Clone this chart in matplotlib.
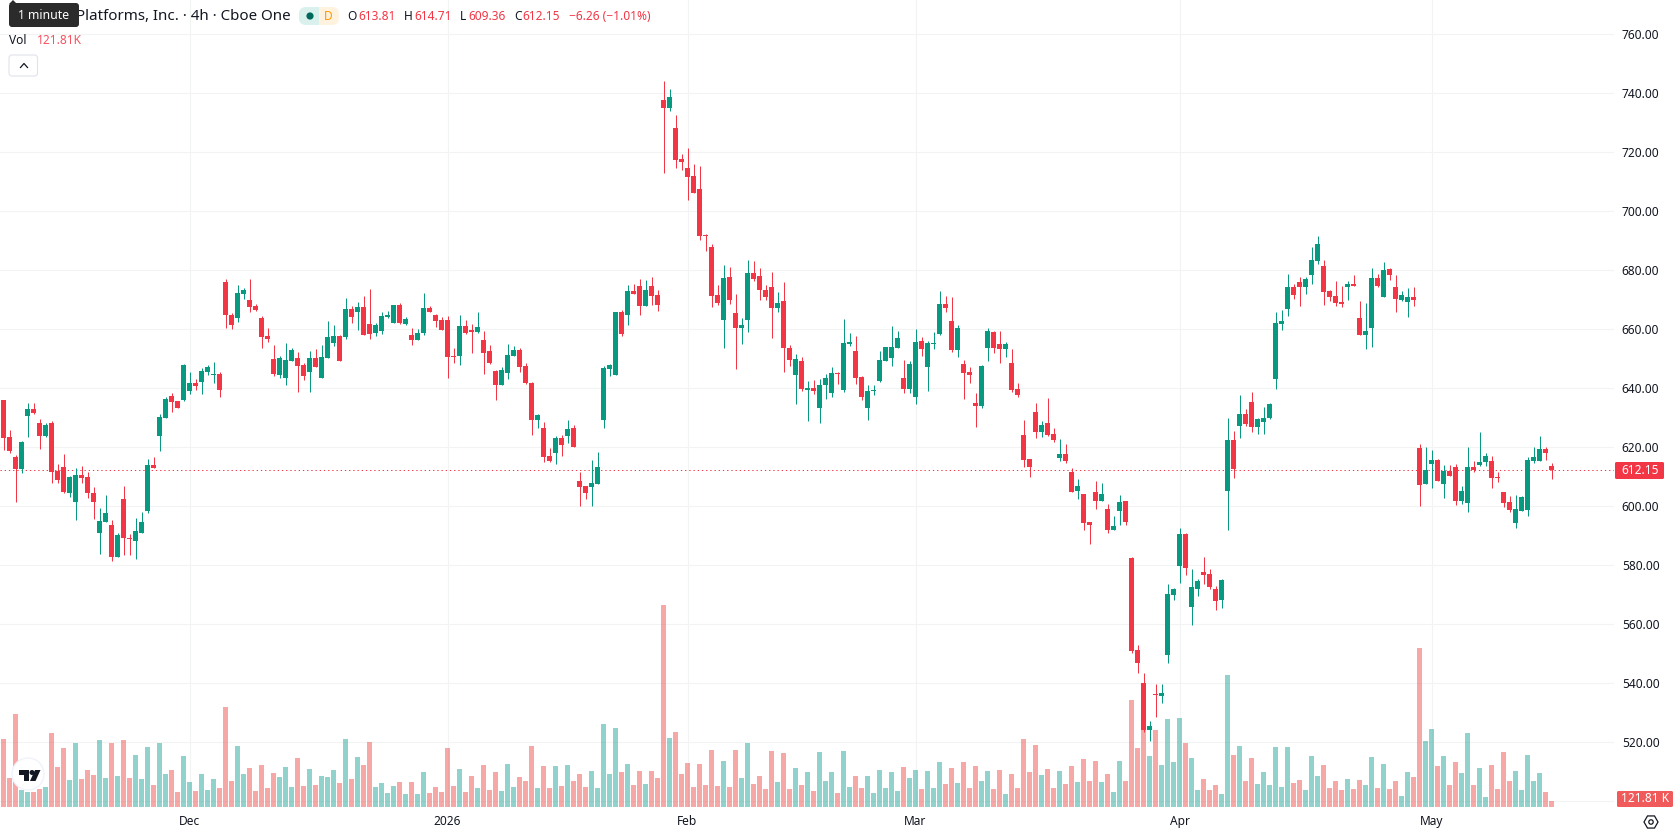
import matplotlib
matplotlib.use("Agg")
import matplotlib.pyplot as plt
from matplotlib.patches import FancyBboxPatch, Circle, Polygon, RegularPolygon, Rectangle

plt.rcParams['font.family'] = ['Noto Sans', 'DejaVu Sans']

# 4h bars, oldest first
opens = [
    636.0,623.5,616.7,612.6,630.6,633.0,628.2,623.8,628.2,612.0,
    613.3,604.5,601.5,610.6,609.9,604.5,590.9,594.7,593.7,582.8,
    602.5,589.3,588.2,590.9,598.4,614.0,623.8,629.9,637.4,635.7,
    636.0,639.1,641.8,642.1,645.5,644.5,644.9,676.0,664.9,663.8,
    672.0,669.9,667.9,663.8,657.7,649.9,644.5,643.5,649.3,650.3,
    647.9,645.5,650.3,643.5,650.3,655.4,657.7,657.4,666.9,665.9,
    667.6,661.8,658.8,659.4,664.2,662.1,668.2,661.8,658.1,656.4,
    658.8,667.2,664.9,663.2,663.2,651.0,651.0,661.1,659.8,659.1,
    656.4,652.7,645.9,641.1,645.2,651.0,653.0,647.6,641.8,629.3,
    626.5,617.1,618.1,623.2,623.8,626.5,608.6,606.9,606.5,607.6,
    629.3,646.6,644.5,665.9,664.9,673.0,674.7,667.9,674.7,671.6,
    737.7,735.0,728.2,717.7,714.7,711.9,707.6,692.0,687.9,671.6,
    663.2,677.7,665.5,660.4,663.2,679.1,678.1,673.3,674.3,667.2,
    669.6,653.7,644.5,649.2,639.4,640.1,633.3,641.1,638.4,645.2,
    639.4,655.0,652.6,643.9,633.3,639.1,642.5,649.3,650.3,653.7,
    643.5,639.8,637.1,656.0,647.2,655.0,658.4,668.6,662.8,653.0,
    648.2,645.5,635.0,634.0,653.7,659.1,655.0,653.3,648.6,639.8,
    624.2,616.0,632.0,625.2,628.2,624.5,616.4,617.7,611.6,605.2,
    604.2,594.7,604.9,601.8,599.1,592.0,598.4,601.8,582.5,551.3,
    540.1,524.2,536.4,535.7,549.6,569.9,579.8,590.6,565.9,572.0,
    577.7,577.1,572.0,568.2,605.2,622.5,627.3,631.3,635.4,626.9,
    628.6,630.0,643.2,661.8,666.9,674.4,676.1,674.4,678.5,683.2,
    681.5,673.0,671.3,669.3,674.4,675.4,663.9,658.1,660.5,677.4,
    671.0,680.5,674.4,670.0,669.3,671.0,619.8,607.6,614.4,615.7,
    607.6,612.0,613.4,601.8,601.2,613.4,614.0,615.1,615.4,610.0,
    604.9,601.5,594.4,598.4,598.8,615.4,615.4,619.5,613.81,
]
closes = [
    623.3,618.8,612.6,621.8,633.0,631.6,623.8,627.6,611.6,608.9,
    604.9,609.9,610.6,609.6,604.5,601.5,595.0,597.7,582.8,590.3,
    589.3,588.9,591.6,594.7,614.0,613.0,630.3,636.4,635.4,633.3,
    647.9,641.8,640.8,645.9,647.2,644.9,639.4,664.9,661.5,672.3,
    673.3,667.6,666.6,657.4,656.7,644.9,650.3,649.6,653.0,647.6,
    644.2,650.3,647.2,650.6,657.4,657.7,649.3,666.9,664.2,667.6,
    658.1,658.4,661.5,664.5,664.9,668.2,662.1,663.5,656.4,658.8,
    667.2,665.9,662.8,659.8,650.6,650.6,661.1,658.8,659.1,660.8,
    652.0,648.6,641.1,646.2,651.3,653.0,647.2,641.8,629.3,631.0,
    616.7,615.4,623.2,620.8,626.2,620.1,606.5,604.5,607.9,613.3,
    646.9,647.9,665.9,658.4,673.0,672.0,667.9,673.3,671.3,668.2,
    735.0,738.8,717.4,716.7,711.6,706.2,691.6,691.6,671.3,668.9,
    677.4,669.9,660.4,661.5,679.1,677.0,673.3,671.0,667.2,668.9,
    653.7,649.6,649.9,639.8,640.1,639.1,641.1,643.5,645.2,644.9,
    655.4,655.7,643.5,637.1,639.1,639.4,649.6,654.0,654.0,657.0,
    639.8,648.2,655.7,653.3,655.4,655.4,668.6,667.2,653.0,660.4,
    645.2,644.5,634.0,647.6,659.4,653.7,653.3,655.0,639.4,637.8,
    615.7,613.3,625.2,627.6,624.2,622.5,617.7,615.4,604.9,606.9,
    594.3,593.7,601.8,604.2,592.0,593.3,601.5,594.7,550.9,546.9,
    524.2,525.5,536.0,536.7,570.3,572.0,590.6,579.1,572.6,574.7,
    576.7,572.6,567.9,575.0,622.5,612.7,631.3,628.0,626.9,629.6,
    630.0,634.7,662.2,662.9,674.4,671.7,674.4,677.1,683.5,689.0,
    672.7,671.0,669.0,668.6,675.4,674.7,658.1,659.5,677.4,674.7,
    680.1,678.5,670.3,671.7,671.0,670.0,607.3,612.4,615.7,608.6,
    612.0,610.3,601.8,605.2,613.4,612.4,615.1,617.1,609.6,609.6,
    601.2,598.8,599.1,603.2,615.7,616.8,619.5,618.1,612.15,
]
highs = [
    636.0,625.9,617.4,622.1,635.0,635.0,629.6,628.2,628.9,614.3,
    617.7,610.3,613.0,613.7,611.6,606.5,599.4,603.8,595.4,590.9,
    606.9,590.6,596.0,598.1,616.0,616.7,631.3,637.1,638.4,635.7,
    648.2,645.5,643.2,646.9,647.9,648.9,645.5,677.1,665.5,675.0,
    674.0,677.1,668.6,664.5,660.4,654.7,651.0,655.4,653.7,652.3,
    648.6,652.7,653.3,654.7,662.8,661.5,658.1,670.6,667.9,669.3,
    671.3,673.7,662.1,665.9,666.2,668.2,668.9,664.2,660.4,660.1,
    672.3,667.9,665.2,664.2,664.5,653.7,664.9,663.2,661.8,665.9,
    659.4,654.7,646.2,647.2,655.0,654.3,653.7,648.6,642.1,631.3,
    628.6,619.8,623.8,624.2,629.3,627.6,611.6,606.9,615.7,618.4,
    647.6,648.2,665.9,666.6,675.0,675.4,677.1,676.7,677.7,673.3,
    744.2,741.5,732.6,719.4,721.5,716.0,715.4,692.3,688.9,675.0,
    681.8,681.1,672.0,663.8,683.5,683.2,680.8,675.0,679.4,672.6,
    676.0,654.7,651.6,650.6,642.5,642.8,643.2,644.9,647.2,645.5,
    663.5,658.7,657.7,644.2,641.1,641.1,652.7,654.0,661.1,659.4,
    649.6,649.2,660.1,657.4,656.0,659.1,673.0,671.3,670.9,661.5,
    649.6,647.2,638.4,647.9,660.4,659.4,659.4,655.7,653.3,641.8,
    629.3,616.0,635.0,628.9,636.7,626.5,622.8,621.1,613.0,609.3,
    604.2,594.7,608.6,607.9,600.8,596.7,603.8,601.8,582.8,553.0,
    543.5,527.2,539.8,539.8,573.7,572.3,592.6,590.9,578.8,575.4,
    582.8,578.8,573.0,575.4,630.0,625.6,637.8,633.0,638.8,630.0,
    633.7,635.1,665.9,666.6,678.8,675.4,677.8,677.8,687.9,691.7,
    683.5,673.4,676.4,674.7,676.4,678.5,669.6,669.0,680.8,678.8,
    682.9,680.8,678.5,673.0,674.0,674.4,621.2,620.1,619.1,616.1,
    614.0,614.0,614.4,606.9,620.1,615.4,625.2,618.1,617.1,611.7,
    604.9,603.5,603.9,603.5,616.8,620.1,623.9,620.1,614.71,
]
lows = [
    619.1,618.1,601.5,611.3,623.5,631.3,619.4,623.5,607.9,607.9,
    604.5,603.2,595.4,607.9,602.8,595.7,583.8,594.7,581.5,582.8,
    583.5,583.5,582.1,590.9,597.7,613.0,618.8,629.9,632.0,633.3,
    635.7,638.1,639.4,638.1,644.5,641.8,637.1,660.4,660.1,662.5,
    670.3,665.9,666.2,653.7,655.7,644.2,643.5,641.1,649.3,638.8,
    642.8,638.8,647.2,643.5,650.3,654.3,649.3,656.7,662.1,659.8,
    658.1,656.7,657.7,658.4,663.8,662.1,661.8,661.5,654.7,656.4,
    658.1,665.9,660.8,659.8,643.5,648.6,647.9,658.4,652.0,658.8,
    644.9,648.2,636.0,641.1,643.2,651.0,645.5,641.5,624.2,626.5,
    615.0,615.0,614.3,617.1,621.5,620.1,600.1,602.5,600.1,607.6,
    626.5,644.2,644.5,657.7,661.5,672.0,664.9,667.9,668.2,666.2,
    713.0,734.0,714.7,714.0,703.8,706.2,690.3,686.5,667.6,668.2,
    653.7,668.6,646.5,655.0,659.1,676.4,669.9,669.9,657.0,665.9,
    645.5,647.6,634.7,639.1,628.9,638.1,628.2,636.4,637.1,641.5,
    638.8,654.3,641.5,636.1,629.3,637.8,642.2,649.3,647.6,653.7,
    638.4,638.4,634.7,650.9,639.1,653.3,658.1,665.9,652.3,650.6,
    636.4,641.8,626.9,633.3,649.2,652.0,648.6,650.6,638.8,637.1,
    613.3,609.9,623.2,623.5,623.8,621.8,615.4,614.7,604.9,602.5,
    592.0,587.2,599.1,601.8,591.0,592.0,593.7,593.7,550.3,543.5,
    523.5,520.4,528.6,533.3,546.9,568.2,574.0,576.7,559.8,569.6,
    573.7,572.0,564.9,565.5,592.0,609.6,623.2,627.3,625.2,624.6,
    624.6,629.6,639.8,659.8,664.6,670.3,667.9,672.0,675.4,682.2,
    668.3,669.6,667.9,667.6,670.0,674.7,658.1,653.4,654.0,674.4,
    671.0,676.8,665.9,669.6,664.2,667.9,600.1,607.6,606.2,608.6,
    602.9,610.3,600.5,600.8,598.1,611.7,613.7,613.7,606.2,608.3,
    599.8,598.1,592.7,598.4,596.8,614.7,615.4,615.7,609.36,
]
# volume per bar, in thousands of shares
volumes = [
    1462,624,2000,366,323,323,387,430,1591,860,
    1269,581,1376,602,796,688,1441,624,1376,667,
    1441,624,1118,602,1290,473,1376,710,796,323,
    1097,538,344,710,366,602,409,2150,559,1312,
    710,839,344,903,409,731,645,860,430,1054,
    452,817,473,667,645,796,516,1462,602,1075,
    903,1398,430,516,301,452,538,280,538,280,
    753,301,430,323,1269,452,817,323,667,409,
    903,366,753,344,925,430,645,559,1312,409,
    882,409,882,452,903,559,710,430,774,409,
    1785,710,1699,753,925,473,774,495,774,624,
    4343,1484,1613,710,946,430,925,473,1226,452,
    989,430,1226,624,1376,495,667,387,1204,538,
    1161,387,839,473,753,344,1183,559,753,301,
    1204,430,667,409,667,301,796,409,753,344,
    860,624,796,387,774,409,968,495,839,516,
    968,409,882,559,774,387,796,280,710,409,
    1462,753,1333,688,817,409,774,495,882,538,
    1032,559,989,538,710,323,989,559,2300,1269,
    1655,1097,1655,903,1892,968,1913,1376,1054,366,
    602,366,473,280,2838,1118,1312,559,1054,495,
    753,473,1290,430,1290,516,581,366,1097,667,
    903,409,559,366,602,387,581,473,1075,409,
    925,387,559,237,753,645,3419,1419,1677,882,
    1097,473,968,731,1591,473,839,215,903,387,
    1183,559,774,366,1118,559,731,323,121.81,
]
price_ticks = [500, 520, 540, 560, 580, 600, 620, 640, 660, 680, 700, 720, 740, 760]
price_labels = ['', '520.00', '540.00', '560.00', '580.00', '600.00', '620.00',
                '640.00', '660.00', '680.00', '700.00', '720.00', '740.00', '760.00']
month_positions = [31, 74, 114, 152, 196, 238]
month_labels = ['Dec', '2026', 'Feb', 'Mar', 'Apr', 'May']
last_price = closes[-1]

UP = '#089981'
DOWN = '#F23645'
GRID = '#F2F3F3'
INK = '#131722'
W, H = 1678, 835
PLOT_W, PLOT_H = 1614, 807

fig = plt.figure(figsize=(W / 100, H / 100), dpi=100, facecolor='white')
rect = [0, 1 - PLOT_H / H, PLOT_W / W, PLOT_H / H]

xlim = (-3.5 / 6, (PLOT_W - 3.5) / 6)
ylim = (498.1, 771.6)

# Price scale, time scale and grid live on the bottom layer
ax = fig.add_axes(rect, zorder=1)
ax.set_xlim(xlim)
ax.set_ylim(ylim)
ax.yaxis.tick_right()
ax.set_yticks(price_ticks)
ax.set_yticklabels(price_labels, fontsize=8.6, color=INK)
ax.set_xticks(month_positions)
ax.set_xticklabels(month_labels, fontsize=8.6, color=INK)
ax.get_xticklabels()[1].set_fontweight('bold')
ax.tick_params(axis='both', length=0)
ax.tick_params(axis='y', pad=5.6)
ax.tick_params(axis='x', pad=5.5)
ax.grid(True, color=GRID, linewidth=0.8)
ax.set_axisbelow(True)
for s in ax.spines.values():
    s.set_visible(False)

xs = list(range(len(closes)))
rising = [c >= o for o, c in zip(opens, closes)]

# Volume histogram, scaled so the pane's full height is 17350 K
ax_vol = fig.add_axes(rect, zorder=2)
ax_vol.patch.set_visible(False)
ax_vol.axis('off')
ax_vol.set_xlim(xlim)
ax_vol.set_ylim(0, 17350)
vol_colors = [(38/255, 166/255, 154/255, 0.5) if r else (239/255, 83/255, 80/255, 0.5) for r in rising]
ax_vol.bar(xs, volumes, width=5 / 6, color=vol_colors, linewidth=0)

# Candles and the last-price line
ax_c = fig.add_axes(rect, zorder=3)
ax_c.patch.set_visible(False)
ax_c.axis('off')
ax_c.set_xlim(xlim)
ax_c.set_ylim(ylim)
ax_c.axhline(last_price, color=DOWN, linewidth=0.72, dashes=(1.3, 2.9), zorder=1)
candle_colors = [UP if r else DOWN for r in rising]
ax_c.vlines(xs, lows, highs, colors=candle_colors, linewidth=0.72, zorder=2, snap=True)
body_low = [min(o, c) for o, c in zip(opens, closes)]
body_h = [max(abs(o - c), 0.34) for o, c in zip(opens, closes)]
ax_c.bar(xs, body_h, bottom=body_low, width=5 / 6, color=candle_colors, linewidth=0, zorder=3)

# Chart furniture in pixel coordinates
ui = fig.add_axes([0, 0, 1, 1], zorder=4)
ui.set_xlim(0, W)
ui.set_ylim(H, 0)
ui.axis('off')
ui.patch.set_visible(False)

FS = 8.6
ui.text(291, 16, 'Platforms, Inc. · 4h · Cboe One', ha='right', va='center', fontsize=10.9, color=INK)

# Tooltip
TOOLTIP = '#2B2B2B'
ui.add_patch(FancyBboxPatch((9, 3), 70, 24, boxstyle='round,pad=0,rounding_size=3',
                            fc=TOOLTIP, ec='none', zorder=5))
ui.add_patch(Polygon([[9, 4], [13, 0], [17, 4]], closed=True, fc=TOOLTIP, ec='none', zorder=5))
ui.text(43.5, 15.5, '1 minute', color='white', fontsize=8.8, ha='center', va='center', zorder=6)

# Market-status pill
ui.add_patch(FancyBboxPatch((299, 7), 20, 18, boxstyle='round,pad=0,rounding_size=7', fc='#DAF0EC', ec='none'))
ui.add_patch(FancyBboxPatch((319, 7), 20, 18, boxstyle='round,pad=0,rounding_size=7', fc='#FFF3E0', ec='none'))
ui.add_patch(Rectangle((311, 7), 8, 18, fc='#DAF0EC', ec='none'))
ui.add_patch(Rectangle((319, 7), 8, 18, fc='#FFF3E0', ec='none'))
ui.add_patch(Circle((310, 16), 3.6, fc='#00695C', ec='none'))
ui.text(328, 16, 'D', color='#FF9800', fontsize=8.6, fontweight='bold', ha='center', va='center')

# OHLC readout
for x, letter, x2, value in [(347, 'O', 358, '613.81'), (404, 'H', 414, '614.71'),
                             (460, 'L', 468, '609.36'), (514, 'C', 522, '612.15')]:
    ui.text(x, 16, letter, color=INK, fontsize=FS, ha='left', va='center')
    ui.text(x2, 16, value, color=DOWN, fontsize=FS, ha='left', va='center')
ui.text(569, 16, '−6.26 (−1.01%)', color=DOWN, fontsize=FS, ha='left', va='center')

ui.text(9, 40, 'Vol', color=INK, fontsize=FS, ha='left', va='center')
ui.text(37, 40, '121.81K', color='#F7525F', fontsize=FS, ha='left', va='center')

# Collapse button
ui.add_patch(FancyBboxPatch((9, 55), 28.5, 21, boxstyle='round,pad=0,rounding_size=3',
                            fc='white', ec='#E0E3EB', linewidth=0.8))
ui.plot([20.5, 24, 27.5], [67.5, 63.5, 67.5], color=INK, linewidth=0.9)

# Last-value badges on the price scale
ui.add_patch(FancyBboxPatch((1615, 462), 49, 17, boxstyle='round,pad=0,rounding_size=1.5', fc=DOWN, ec='none'))
ui.text(1640, 470.5, f'{last_price:.2f}', color='white', fontsize=FS, ha='center', va='center')
ui.add_patch(FancyBboxPatch((1617, 791), 56, 16, boxstyle='round,pad=0,rounding_size=1.5', fc='#F05A5A', ec='none'))
ui.text(1645, 799, f'{volumes[-1]:.2f} K', color='white', fontsize=FS, ha='center', va='center')

# Settings cog
ui.add_patch(RegularPolygon((1651, 822), 6, radius=7, orientation=3.14159 / 6, fc='none', ec=INK, linewidth=0.9))
ui.add_patch(Circle((1651, 822), 2.2, fc='none', ec=INK, linewidth=0.9))

# Logo badge over the volume pane
ui.add_patch(Circle((28, 774), 16, fc='white', ec='#F0F3FA', linewidth=1, zorder=5))
ui.add_patch(Polygon([[19, 770], [29, 770], [29, 781], [24, 781], [24, 775], [19, 775]],
                     closed=True, fc='#131722', ec='none', zorder=6))
ui.add_patch(Circle((32, 772.5), 2.5, fc='#131722', ec='none', zorder=6))
ui.add_patch(Polygon([[35, 770], [40.5, 770], [35.5, 781], [30, 781]],
                     closed=True, fc='#131722', ec='none', zorder=6))

fig.savefig('out.png', dpi=100)
